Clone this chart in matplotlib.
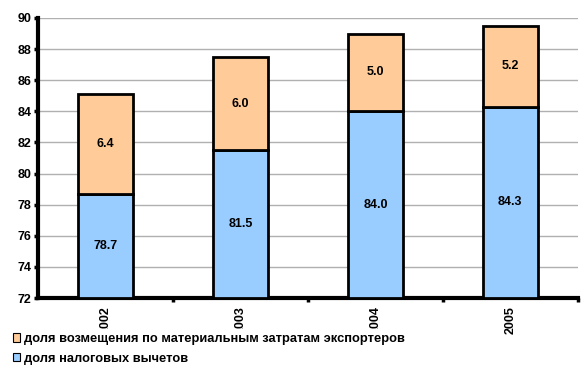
import numpy as np
import matplotlib
matplotlib.use('Agg')
import matplotlib.pyplot as plt
from matplotlib.patches import Patch

plt.rcParams['font.family'] = ['Liberation Sans', 'DejaVu Sans']

years = ['2002', '2003', '2004', '2005']
tax_share = [78.7, 81.5, 84.0, 84.3]        # доля налоговых вычетов
refund_share = [6.4, 6.0, 5.0, 5.2]         # доля возмещения по материальным затратам
label_blue = 'доля налоговых вычетов'
label_orange = 'доля возмещения по материальным затратам экспортеров'

blue = '#99CCFF'
orange = '#FFCC99'

fig = plt.figure(figsize=(5.86, 3.74), dpi=100)
ax = fig.add_axes([0.065, 0.203, 0.921, 0.749])

x = np.arange(len(years))
base = 72
w = 0.41
ax.bar(x, np.array(tax_share) - base, bottom=base, width=w, color=blue,
       edgecolor='black', linewidth=2, zorder=3)
ax.bar(x, refund_share, bottom=tax_share, width=w, color=orange,
       edgecolor='black', linewidth=2, zorder=3)

for i in range(len(years)):
    ax.text(x[i], (base + tax_share[i]) / 2, f'{tax_share[i]:.1f}', ha='center',
            va='center', fontsize=9, fontweight='bold', zorder=4)
    ax.text(x[i], tax_share[i] + refund_share[i] / 2, f'{refund_share[i]:.1f}',
            ha='center', va='center', fontsize=9, fontweight='bold', zorder=4)

ax.set_xlim(-0.5, 3.5)
ax.set_ylim(72, 90)
ax.set_yticks(np.arange(72, 91, 2))
ax.yaxis.grid(True, color='#b0b0b0', linewidth=1)
ax.set_axisbelow(True)

ax.set_xticks(x)
ax.set_xticklabels(years, rotation=90, fontsize=9, fontweight='bold')
ax.set_xticks(np.arange(0.5, 4, 1), minor=True)
ax.tick_params(axis='x', which='major', length=0, pad=6)
ax.tick_params(axis='x', which='minor', length=3, width=2.5, direction='out')
ax.tick_params(axis='y', length=3, width=2.5, direction='out', labelsize=9, pad=2)
for lbl in ax.get_yticklabels():
    lbl.set_fontweight('bold')

for s in ['top', 'right']:
    ax.spines[s].set_visible(False)
for s in ['left', 'bottom']:
    ax.spines[s].set_linewidth(3)

handles = [Patch(facecolor=orange, edgecolor='black', linewidth=0.8),
           Patch(facecolor=blue, edgecolor='black', linewidth=0.8)]
leg = fig.legend(handles, [label_orange, label_blue], loc='upper left',
                 bbox_to_anchor=(0.015, 0.12), frameon=True, fancybox=False,
                 edgecolor='white', facecolor='white', framealpha=1,
                 prop={'size': 9.3, 'weight': 'bold'}, handlelength=0.6,
                 handleheight=0.6, handletextpad=0.3, labelspacing=0.6,
                 borderpad=0.3, borderaxespad=0)
leg.set_zorder(10)

fig.savefig('out.png', dpi=100)
